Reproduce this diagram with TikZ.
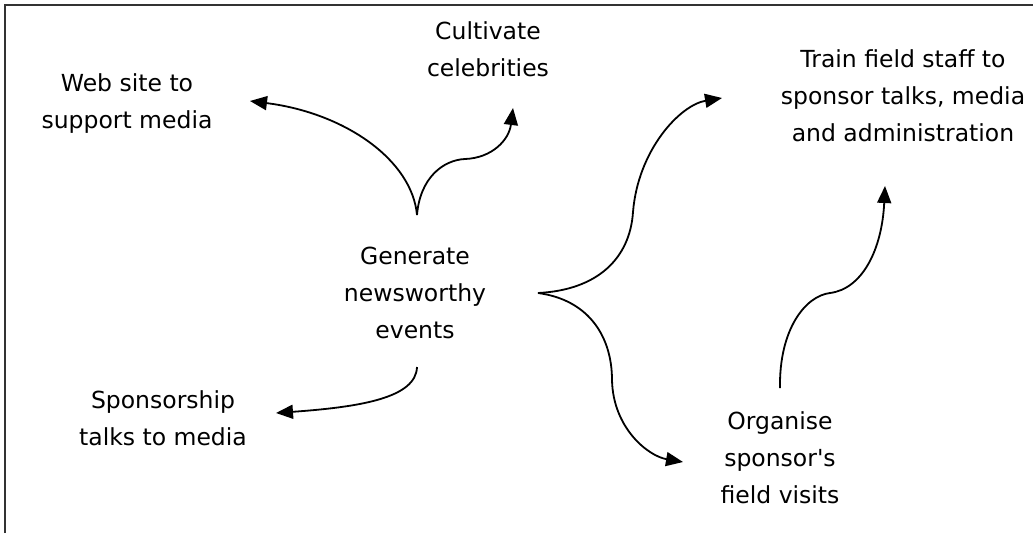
\documentclass[tikz,border=0pt]{standalone}
\usepackage{fontspec}
\newfontfamily\handfont{DejaVu Sans}
\usetikzlibrary{arrows.meta}
\tikzset{
	idea/.style={align=center,inner sep=0pt,font=\handfont\fontsize{23.5}{37}\selectfont},
	link/.style={-{Triangle[length=17pt,width=14pt]},line width=1.8pt}
}
\begin{document}
\begin{tikzpicture}[x=1pt,y=-1pt]
			\useasboundingbox (0,0) rectangle (1036,533);
			\draw[line width=1.6pt,black!80] (5,533) -- (5,5) -- (1033,5);
			% the ideas
			\node[idea] (gen) at (415,293) {Generate\\newsworthy\\events};
			\node[idea] (web) at (127,104) {Web site to\\support media};
			\node[idea] (cult) at (488,49) {Cultivate\\celebrities};
			\node[idea] (train) at (903,96) {Train field staff to\\sponsor talks, media\\and administration};
			\node[idea] (talks) at (163,418) {Sponsorship\\talks to media};
			\node[idea] (visit) at (780,458) {Organise\\sponsor's\\field visits};
			% where the links start and stop
			\coordinate (top) at (417,215);
			\coordinate (bot) at (417,367);
			\coordinate (fork) at (538,293);
			\coordinate (rise) at (780,388);
			\coordinate (webtip) at (250,101);
			\coordinate (culttip) at (513,108);
			\coordinate (traintip) at (722,98);
			\coordinate (risetip) at (885,186);
			\coordinate (talkstip) at (276,413);
			\coordinate (visittip) at (683,462);
			% links
			\draw[link] (top) .. controls (412,160) and (345,113) .. (webtip);
			\draw[link] (top) .. controls (420,178) and (443,160) .. (465,159) .. controls (492,158) and (509,140) .. (culttip);
			\draw[link] (fork) .. controls (598,290) and (630,258) .. (633,212) .. controls (638,150) and (680,105) .. (traintip);
			\draw[link] (fork) .. controls (590,300) and (612,338) .. (612,380) .. controls (613,428) and (648,456) .. (visittip);
			\draw[link] (rise) .. controls (779,330) and (805,296) .. (830,293) .. controls (862,289) and (882,250) .. (risetip);
			\draw[link] (bot) .. controls (416,398) and (360,407) .. (talkstip);
		\end{tikzpicture}
\end{document}
